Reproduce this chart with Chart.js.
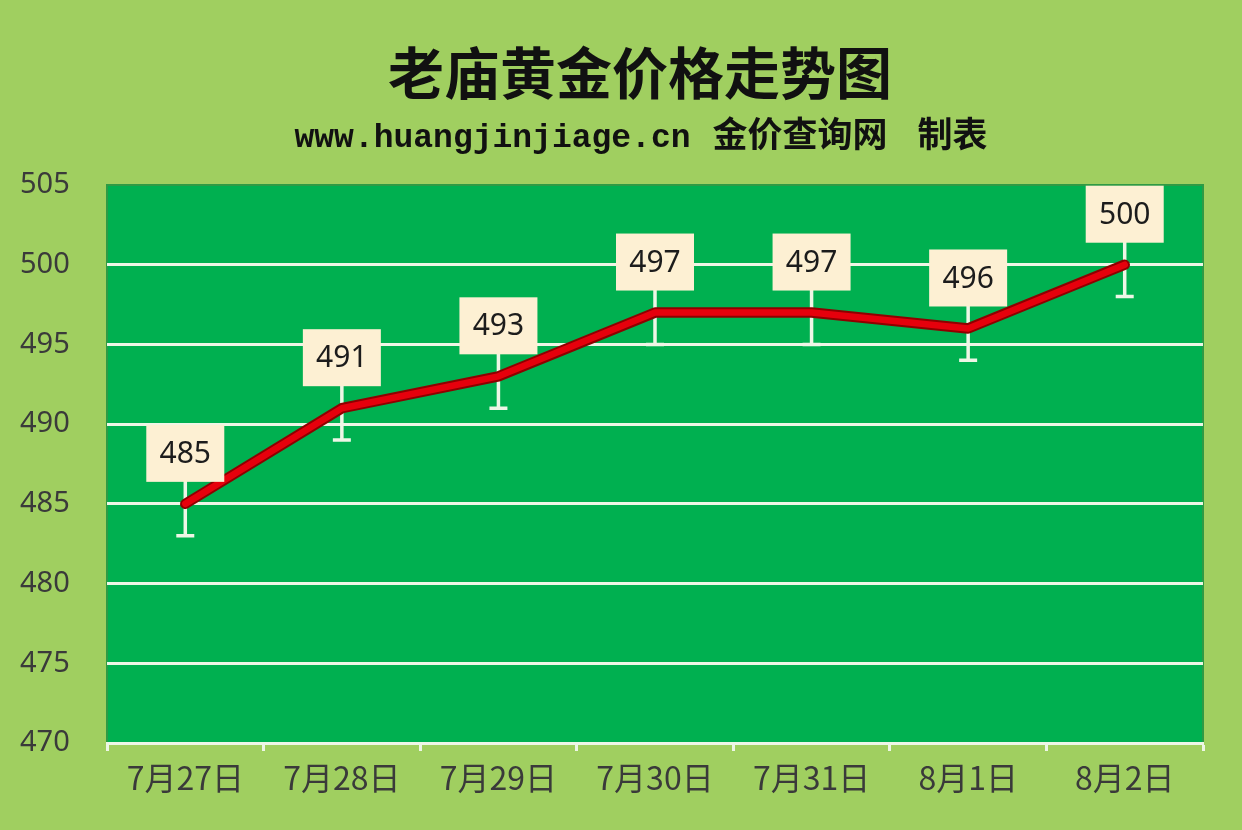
<!DOCTYPE html>
<html>
<head>
<meta charset="utf-8">
<script src="https://cdn.jsdelivr.net/npm/chart.js@4.4.1/dist/chart.umd.min.js"></script>
<style>
  html, body { margin: 0; padding: 0; background: #a0cf60; }
  #wrap { width: 1242px; height: 830px; }
</style>
</head>
<body>
<div id="wrap"><canvas id="c" width="1242" height="830"></canvas></div>
<script>
const titleText = '老庙黄金价格走势图';
const subtitleUrl = 'www.huangjinjiage.cn';
const subtitleName = '金价查询网';
const subtitleTail = '制表';
const categories = ['7月27日', '7月28日', '7月29日', '7月30日', '7月31日', '8月1日', '8月2日'];
const prices = [485, 491, 493, 497, 497, 496, 500];
const errorMinus = [2, 2, 2, 2, 2, 2, 2];
const yMin = 470, yMax = 505, yStep = 5;

const plotBg = {
  id: 'plotBg',
  beforeDraw(chart) {
    const { ctx, chartArea: a } = chart;
    ctx.save();
    ctx.fillStyle = '#00b050';
    ctx.fillRect(a.left, a.top, a.right - a.left, a.bottom - a.top);
    ctx.strokeStyle = '#2f9a45';
    ctx.lineWidth = 2;
    ctx.strokeRect(a.left, a.top, a.right - a.left, a.bottom - a.top);
    ctx.restore();
  },
  afterDraw(chart) {
    const { ctx } = chart;
    ctx.save();
    ctx.fillStyle = '#111';
    // main title
    ctx.font = 'bold 56px "Noto Sans CJK SC", sans-serif';
    ctx.textAlign = 'center';
    ctx.textBaseline = 'middle';
    ctx.fillText(titleText, 640, 73);
    // subtitle line with mixed fonts
    ctx.textBaseline = 'alphabetic';
    ctx.textAlign = 'left';
    const fUrl = 'bold 33px "Liberation Mono", monospace';
    const fCjk = 'bold 35px "Noto Sans CJK SC", sans-serif';
    ctx.font = fUrl; const wUrl = ctx.measureText(subtitleUrl).width;
    ctx.font = fCjk; const wName = ctx.measureText(subtitleName).width;
    const wTail = ctx.measureText(subtitleTail).width;
    const g1 = 22, g2 = 30;
    const total = wUrl + g1 + wName + g2 + wTail;
    let x = 641 - total / 2;
    const base = 147;
    ctx.font = fUrl; ctx.fillText(subtitleUrl, x, base); x += wUrl + g1;
    ctx.font = fCjk; ctx.fillText(subtitleName, x, base); x += wName + g2;
    ctx.fillText(subtitleTail, x, base);
    ctx.restore();
  }
};

const errBars = {
  id: 'errBars',
  beforeDatasetsDraw(chart) {
    const { ctx } = chart;
    const ys = chart.scales.y;
    const meta = chart.getDatasetMeta(0);
    ctx.save();
    ctx.strokeStyle = '#eef6e6';
    ctx.lineWidth = 3.5;
    meta.data.forEach((pt, i) => {
      const yLow = ys.getPixelForValue(prices[i] - errorMinus[i]);
      const yTop = pt.y - 24;
      ctx.beginPath();
      ctx.moveTo(pt.x, yTop);
      ctx.lineTo(pt.x, yLow);
      ctx.moveTo(pt.x - 9, yLow);
      ctx.lineTo(pt.x + 9, yLow);
      ctx.stroke();
    });
    ctx.restore();
  },
  afterDatasetsDraw(chart) {
    const { ctx } = chart;
    const meta = chart.getDatasetMeta(0);
    ctx.save();
    meta.data.forEach((pt, i) => {
      const w = 78, h = 57;
      const bx = pt.x - w / 2, by = pt.y - 22 - h;
      ctx.fillStyle = '#fdf0d3';
      ctx.fillRect(bx, by, w, h);
      ctx.fillStyle = '#1c1c1c';
      ctx.font = '30px "Noto Sans", "Open Sans", sans-serif';
      ctx.textAlign = 'center';
      ctx.textBaseline = 'middle';
      ctx.fillText(String(prices[i]), pt.x, by + h / 2 + 1);
    });
    ctx.restore();
  }
};

new Chart(document.getElementById('c'), {
  type: 'line',
  data: {
    labels: categories,
    datasets: [
      { data: prices, borderColor: '#e6000c', borderWidth: 6.5, pointRadius: 0, tension: 0, borderJoinStyle: 'round', borderCapStyle: 'round', order: 0 },
      { data: prices, borderColor: '#8e0000', borderWidth: 10.5, pointRadius: 0, tension: 0, borderJoinStyle: 'round', borderCapStyle: 'round', order: 1 }
    ]
  },
  options: {
    responsive: false,
    devicePixelRatio: 1,
    animation: false,
    layout: { padding: { left: 20, right: 39, top: 185, bottom: 0 } },
    plugins: {
      legend: { display: false },
      tooltip: { enabled: false },
      title: { display: false }
    },
    scales: {
      x: {
        offset: true,
        grid: { offset: true, drawOnChartArea: false, drawTicks: true, tickLength: 8, tickWidth: 3, color: '#eef6e6' },
        border: { display: true, color: '#eef6e6', width: 3 },
        ticks: { color: '#3a3a3a', font: { family: '"Noto Sans CJK SC", sans-serif', size: 32 }, padding: 8 },
        afterFit(scale) { scale.height = 87; }
      },
      y: {
        min: yMin, max: yMax,
        grid: {
          drawTicks: false,
          lineWidth: 3,
          color: (c) => (c.tick && (c.tick.value === yMax || c.tick.value === yMin)) ? 'rgba(0,0,0,0)' : '#eef6e6'
        },
        border: { display: false },
        ticks: {
          stepSize: yStep,
          color: '#3a3a3a',
          crossAlign: 'far',
          padding: 0,
          font: { family: '"Noto Sans", "Open Sans", sans-serif', size: 29 }
        },
        afterFit(scale) { scale.width = 87; }
      }
    }
  },
  plugins: [plotBg, errBars]
});
</script>
</body>
</html>
